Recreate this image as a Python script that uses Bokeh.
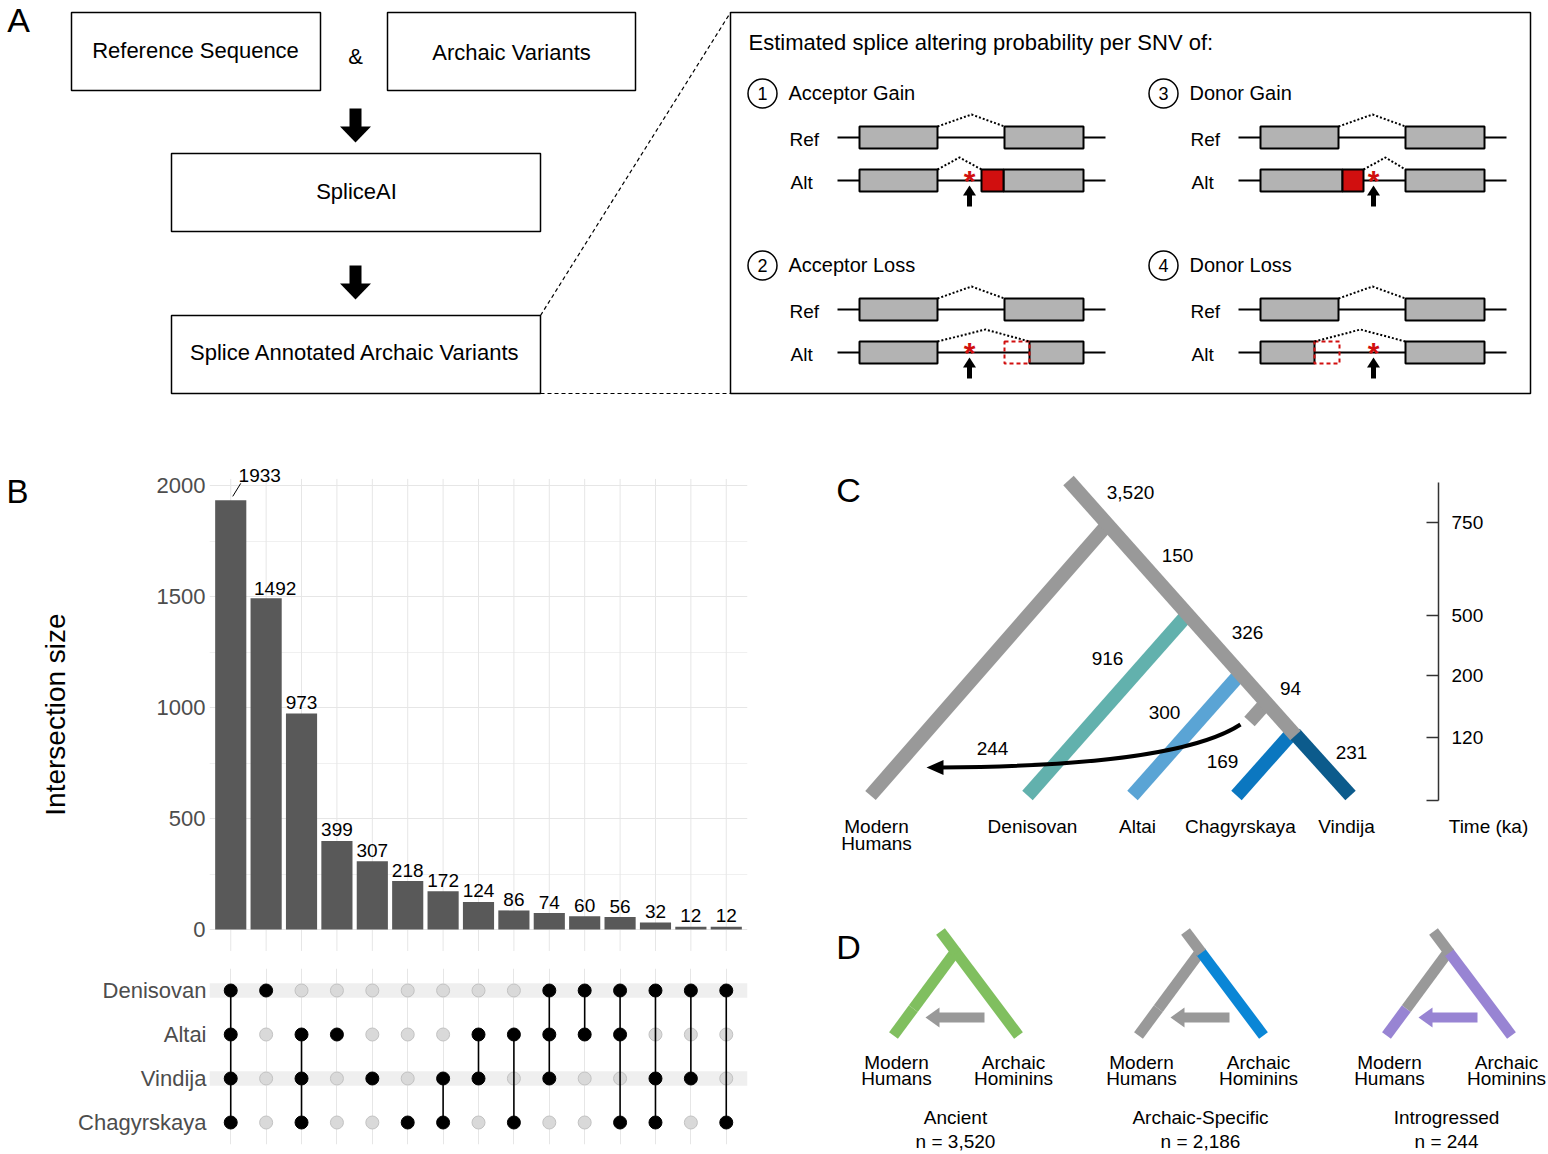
import math
from bokeh.plotting import figure
from bokeh.layouts import row, column
from bokeh.models import Range1d, FactorRange, FixedTicker, ColumnDataSource, Grid
from bokeh.core.properties import value
from bokeh.embed import file_html
from bokeh.resources import INLINE

FONT = "Liberation Sans"

# ---------------- data ----------------
flow_boxes = ["Reference Sequence", "Archaic Variants", "SpliceAI", "Splice Annotated Archaic Variants"]
splice_title = "Estimated splice altering probability per SNV of:"
splice_events = ["Acceptor Gain", "Acceptor Loss", "Donor Gain", "Donor Loss"]

set_names = ["Denisovan", "Altai", "Vindija", "Chagyrskaya"]
intersection_sizes = [1933, 1492, 973, 399, 307, 218, 172, 124, 86, 74, 60, 56, 32, 12, 12]
intersection_sets = [
    ["Denisovan", "Altai", "Vindija", "Chagyrskaya"],
    ["Denisovan"],
    ["Altai", "Vindija", "Chagyrskaya"],
    ["Altai"],
    ["Vindija"],
    ["Chagyrskaya"],
    ["Vindija", "Chagyrskaya"],
    ["Altai", "Vindija"],
    ["Altai", "Chagyrskaya"],
    ["Denisovan", "Altai", "Vindija"],
    ["Denisovan", "Altai"],
    ["Denisovan", "Altai", "Chagyrskaya"],
    ["Denisovan", "Vindija", "Chagyrskaya"],
    ["Denisovan", "Vindija"],
    ["Denisovan", "Chagyrskaya"],
]
y_ticks = [0, 500, 1000, 1500, 2000]
y_title = "Intersection size"

tree_tips = ["Denisovan", "Altai", "Chagyrskaya", "Vindija"]
branch_counts = [3520, 150, 326, 94, 916, 300, 244, 169, 231]
time_ticks = [750, 500, 200, 120]
class_names = ["Ancient", "Archaic-Specific", "Introgressed"]
class_counts = [3520, 2186, 244]

# ---------------- helpers ----------------
def canvas(w, h, x0, x1, y0, y1):
    p = figure(width=w, height=h, x_range=Range1d(x0, x1), y_range=Range1d(y1, y0),
               x_axis_location=None, y_axis_location=None, toolbar_location=None,
               output_backend="svg", min_border=0)
    p.outline_line_color = None
    p.grid.visible = False
    return p


def T(p, x, y, s, size=19, align="center", baseline="middle", color="black", style="normal", angle=0):
    p.text(x=[x], y=[y], text=[s], text_font=value(FONT), text_font_size=f"{size}px",
           text_align=align, text_baseline=baseline, text_color=color, text_font_style=style,
           angle=angle)


def R(p, l, r, t, b, fill=None, line="black", lw=1.5, dash="solid"):
    p.quad(left=[l], right=[r], top=[t], bottom=[b], fill_color=fill, line_color=line,
           line_width=lw, line_dash=dash)


def L(p, xs, ys, color="black", lw=2, dash="solid", cap="butt"):
    p.line(xs, ys, line_color=color, line_width=lw, line_dash=dash, line_cap=cap)


def patch(p, xs, ys, color):
    p.patch(xs, ys, fill_color=color, line_color=None)

TOTAL_W = 1546
# ================= Panel A =================
pA = canvas(TOTAL_W, 400, 0, TOTAL_W, 0, 400)
T(pA, 18, 19, "A", 34)
R(pA, 71, 320, 12, 90)
T(pA, 195, 50, flow_boxes[0], 22)
T(pA, 355, 56, "&", 22)
R(pA, 387, 635, 12, 90)
T(pA, 511, 52, flow_boxes[1], 22)
R(pA, 171, 540, 153, 231)
T(pA, 356, 191, flow_boxes[2], 22)
R(pA, 171, 540, 315, 393)
T(pA, 355, 352, flow_boxes[3], 22)


def arrow_down(p, x, y_top, y_base, y_tip, shaft=12, head=31):
    R(p, x - shaft / 2, x + shaft / 2, y_top, y_base + 1, fill="black", line=None)
    patch(p, [x - head / 2, x + head / 2, x], [y_base, y_base, y_tip], "black")


arrow_down(pA, 355, 108, 126, 142)
arrow_down(pA, 355, 265, 283, 299)

L(pA, [540, 730], [315, 12], lw=1.2, dash="4 3")
L(pA, [540, 730], [393, 393], lw=1.2, dash="4 3")
R(pA, 730, 1530, 12, 393, lw=1.5)
T(pA, 748, 42, splice_title, 22, align="left")

EXON = "#b3b3b3"
RED = "#d10f0f"


def exon(p, l, r, yc, fill=EXON, line="black", dash="solid"):
    R(p, l, r, yc - 11, yc + 11, fill=fill, line=line, lw=2, dash=dash)


def splice(p, dx, dy, num, title, kind):
    p.scatter([762 + dx], [93 + dy], size=29, marker="circle", fill_color=None,
              line_color="black", line_width=1.5)
    T(p, 762 + dx, 93 + dy, str(num), 18)
    T(p, 788 + dx, 92 + dy, title, 20, align="left")
    T(p, 789 + dx, 139 + dy, "Ref", 19, align="left")
    T(p, 790 + dx, 182 + dy, "Alt", 19, align="left")
    X = lambda v: [a + dx for a in v]
    Y = lambda v: [a + dy for a in v]
    # reference transcript
    L(p, X([837, 1105]), Y([137, 137]))
    exon(p, 859 + dx, 937 + dx, 137 + dy)
    exon(p, 1004 + dx, 1083 + dx, 137 + dy)
    L(p, X([937, 971, 1004]), Y([126, 114, 126]), dash="2 2")
    # alternative transcript
    L(p, X([837, 1105]), Y([180, 180]))
    if kind == "acc_gain":
        exon(p, 859 + dx, 937 + dx, 180 + dy)
        exon(p, 1003 + dx, 1083 + dx, 180 + dy)
        exon(p, 981 + dx, 1003 + dx, 180 + dy, fill=RED)
        L(p, X([937, 959, 981]), Y([169, 157, 169]), dash="2 2")
        ast = 969
    elif kind == "acc_loss":
        exon(p, 859 + dx, 937 + dx, 180 + dy)
        exon(p, 1029 + dx, 1083 + dx, 180 + dy)
        exon(p, 1004 + dx, 1029 + dx, 180 + dy, fill=None, line=RED, dash="4 3")
        L(p, X([937, 985, 1029]), Y([169, 157, 169]), dash="2 2")
        ast = 969
    elif kind == "don_gain":
        exon(p, 859 + dx, 941 + dx, 180 + dy)
        exon(p, 941 + dx, 962 + dx, 180 + dy, fill=RED)
        exon(p, 1004 + dx, 1083 + dx, 180 + dy)
        L(p, X([962, 984, 1004]), Y([169, 157, 169]), dash="2 2")
        ast = 972
    else:
        exon(p, 859 + dx, 913 + dx, 180 + dy)
        exon(p, 913 + dx, 938 + dx, 180 + dy, fill=None, line=RED, dash="4 3")
        exon(p, 1004 + dx, 1083 + dx, 180 + dy)
        L(p, X([913, 959, 1004]), Y([169, 157, 169]), dash="2 2")
        ast = 972
    T(p, ast + dx, 180 + dy, "*", 30, color=RED, style="bold")
    ax = ast + dx
    R(p, ax - 2.5, ax + 2.5, 194 + dy, 206 + dy, fill="black", line=None)
    patch(p, [ax - 6.5, ax + 6.5, ax], [195 + dy, 195 + dy, 185 + dy], "black")


splice(pA, 0, 0, 1, splice_events[0], "acc_gain")
splice(pA, 0, 172, 2, splice_events[1], "acc_loss")
splice(pA, 401, 0, 3, splice_events[2], "don_gain")
splice(pA, 401, 172, 4, splice_events[3], "don_loss")

# ================= Panel B label strip (panel letter + axis title) =================
LAB_W = 74
pBl = canvas(LAB_W, 752, 0, LAB_W, 400, 1152)
T(pBl, 17, 491, "B", 33)
T(pBl, 55, 714, y_title, 28, angle=math.pi / 2)

# ================= Panel B: bars =================
n = len(intersection_sizes)
xs = list(range(1, n + 1))
PXU = 0.222  # pixels per count unit
Y0_PAGE = 929
BW = 762 - LAB_W
FRAME_L = 209 - LAB_W
FRAME_W = 538
FRAME_R = BW - FRAME_L - FRAME_W
pB = figure(width=BW, height=558, x_range=Range1d(0.4, n + 0.6),
            y_range=Range1d(-(958 - Y0_PAGE) / PXU, (Y0_PAGE - 400) / PXU),
            x_axis_location=None, y_axis_location="left", toolbar_location=None,
            output_backend="svg", min_border_left=FRAME_L, min_border_right=FRAME_R,
            min_border_top=0, min_border_bottom=0)
pB.outline_line_color = None
pB.xgrid.visible = False
minor = [(a + b) / 2 for a, b in zip(y_ticks[:-1], y_ticks[1:])]
pB.yaxis.ticker = FixedTicker(ticks=y_ticks, minor_ticks=minor)
pB.ygrid.ticker = FixedTicker(ticks=y_ticks, minor_ticks=minor)
pB.ygrid.grid_line_color = "#e6e6e6"
pB.ygrid.minor_grid_line_color = "#f0f0f0"
ymax = max(intersection_sizes)
pB.segment(x0=xs, x1=xs, y0=[-0.05 * ymax] * n, y1=[1.05 * ymax] * n,
           line_color="#e6e6e6", line_width=1)
pB.yaxis.axis_line_color = None
pB.yaxis.major_tick_line_color = None
pB.yaxis.minor_tick_line_color = None
pB.yaxis.major_tick_out = 0
pB.yaxis.major_tick_in = 0
pB.yaxis.minor_tick_out = 0
pB.yaxis.major_label_text_font = FONT
pB.yaxis.major_label_text_font_size = "22px"
pB.yaxis.major_label_text_color = "#4d4d4d"
pB.yaxis.major_label_standoff = 4

pB.vbar(x=xs, top=intersection_sizes, bottom=0, width=0.88, fill_color="#595959", line_color=None)
lab_dx = [29, 9] + [0] * (n - 2)
lab_dy = [-25, -10] + [-11] * (n - 2)
src = ColumnDataSource(dict(x=xs, y=intersection_sizes, t=[str(v) for v in intersection_sizes],
                            dx=lab_dx, dy=lab_dy))
pB.text(x="x", y="y", text="t", x_offset="dx", y_offset="dy", source=src,
        text_font=value(FONT), text_font_size="19px", text_align="center",
        text_baseline="middle", text_color="black")
pB.segment(x0=[1 + 2 / 35.4], y0=[ymax + 4 / PXU], x1=[1 + 10 / 35.4], y1=[ymax + 17 / PXU],
           line_color="black", line_width=1)

# ================= Panel B: matrix =================
pM = figure(width=BW, height=194, x_range=pB.x_range, y_range=FactorRange(factors=set_names[::-1]),
            x_axis_location=None, y_axis_location="left", toolbar_location=None,
            output_backend="svg", min_border_left=FRAME_L, min_border_right=FRAME_R,
            min_border_top=10, min_border_bottom=8)
pM.outline_line_color = None
pM.grid.visible = False
pM.add_layout(Grid(dimension=0, ticker=FixedTicker(ticks=xs), grid_line_color="#e6e6e6"))
pM.yaxis.axis_line_color = None
pM.yaxis.major_tick_line_color = None
pM.yaxis.major_tick_out = 0
pM.yaxis.major_tick_in = 0
pM.yaxis.major_label_text_font = FONT
pM.yaxis.major_label_text_font_size = "22px"
pM.yaxis.major_label_text_color = "#4d4d4d"
pM.yaxis.major_label_standoff = 3
band_rows = set_names[0::2]
pM.hbar(y=band_rows, left=0.4, right=n + 0.6, height=0.33, fill_color="#efefef", line_color=None)

gx, gy, bx, by = [], [], [], []
sx0, sy0, sx1, sy1 = [], [], [], []
for i, members in enumerate(intersection_sets):
    for s in set_names:
        if s in members:
            bx.append(i + 1); by.append(s)
        else:
            gx.append(i + 1); gy.append(s)
    if len(members) > 1:
        ordered = [s for s in set_names if s in members]
        sx0.append(i + 1); sy0.append(ordered[0]); sx1.append(i + 1); sy1.append(ordered[-1])
pM.scatter(gx, gy, size=13, fill_color="#d9d9d9", line_color="#c2c2c2", line_width=1)
pM.segment(x0=sx0, y0=sy0, x1=sx1, y1=sy1, line_color="black", line_width=1.6)
pM.scatter(bx, by, size=13, fill_color="black", line_color="black")

# ================= Panels C & D =================
pC = canvas(TOTAL_W - 762, 752, 762, TOTAL_W, 400, 1152)
T(pC, 848, 489, "C", 34)
GREY = "#999999"
TEAL = "#62b1ad"
ALTAI = "#5aa4d5"
CHAG = "#0b77c0"
VIND = "#0c5b8c"
W = 14
L(pC, [1107, 870], [524, 795], GREY, W)
L(pC, [1187, 1027], [614, 795], TEAL, W)
L(pC, [1240, 1132], [673, 795], ALTAI, W)
L(pC, [1266, 1249], [702, 721], GREY, W)
L(pC, [1292, 1236], [732, 795], CHAG, W)
L(pC, [1294, 1350], [733, 795], VIND, W)
L(pC, [1068, 1295], [480, 735], GREY, W)
pC.bezier(x0=[1240], y0=[724], x1=[940], y1=[767], cx0=[1200], cy0=[750], cx1=[1110], cy1=[766],
          line_color="black", line_width=4)
patch(pC, [926, 943, 943], [767, 759.5, 774.5], "black")

count_pos = [(1130, 492), (1177, 555), (1247, 632), (1290, 688), (1107, 658),
             (1164, 712), (992, 748), (1222, 761), (1351, 752)]
for c, (x, y) in zip(branch_counts, count_pos):
    T(pC, x, y, f"{c:,}", 19)

T(pC, 876, 826, "Modern", 19)
T(pC, 876, 843, "Humans", 19)
for name, x in zip(tree_tips, [1032, 1137, 1240, 1346]):
    T(pC, x, 826, name, 19)

# time axis
L(pC, [1438, 1438], [482, 800], "#333333", 1.5)
tick_y = [522, 615, 675, 737]
for t, y in zip(time_ticks, tick_y):
    L(pC, [1426, 1438], [y, y], "#333333", 1.5)
    T(pC, 1451, y, str(t), 19, align="left")
L(pC, [1426, 1438], [800, 800], "#333333", 1.5)
T(pC, 1488, 826, "Time (ka)", 19)

# ---- Panel D ----
T(pC, 848, 946, "D", 34)
GREEN = "#80bf5f"
DBLUE = "#0a86d6"
PURP = "#9884d3"
WD = 11


def small_tree(p, off, stub, left_up, left_low, right, arrow):
    ax, ay = 940 + off, 931
    jx, jy = 955 + off, 951
    lx, ly = 893 + off, 1035
    rx, ry = 1018 + off, 1035
    mx, my = jx + (lx - jx) * 0.68, jy + (ly - jy) * 0.68
    L(p, [mx, lx], [my, ly], left_low, WD)
    L(p, [jx, mx], [jy, my], left_up, WD)
    L(p, [jx, rx], [jy, ry], right, WD)
    L(p, [ax, jx + 1], [ay, jy + 1.3], stub, WD)
    # arrow
    tip, tail, y = 925 + off, 984 + off, 1017
    R(p, tip + 13, tail, y - 5, y + 5, fill=arrow, line=None)
    patch(p, [tip, tip + 14, tip + 14], [y, y - 10, y + 10], arrow)
    T(p, 896 + off, 1062, "Modern", 19)
    T(p, 896 + off, 1078, "Humans", 19)
    T(p, 1013 + off, 1062, "Archaic", 19)
    T(p, 1013 + off, 1078, "Hominins", 19)


small_tree(pC, 0, GREEN, GREEN, GREEN, GREEN, GREY)
small_tree(pC, 245, GREY, GREY, GREY, DBLUE, GREY)
small_tree(pC, 493, GREY, GREY, PURP, PURP, PURP)
for name, cnt, cx in zip(class_names, class_counts, [955, 1200, 1446]):
    T(pC, cx, 1117, name, 19)
    T(pC, cx, 1141, f"n = {cnt:,}", 19)

layout = column(pA, row(pBl, column(pB, pM), pC))
open("out.html", "w").write(file_html(layout, INLINE, "figure"))
